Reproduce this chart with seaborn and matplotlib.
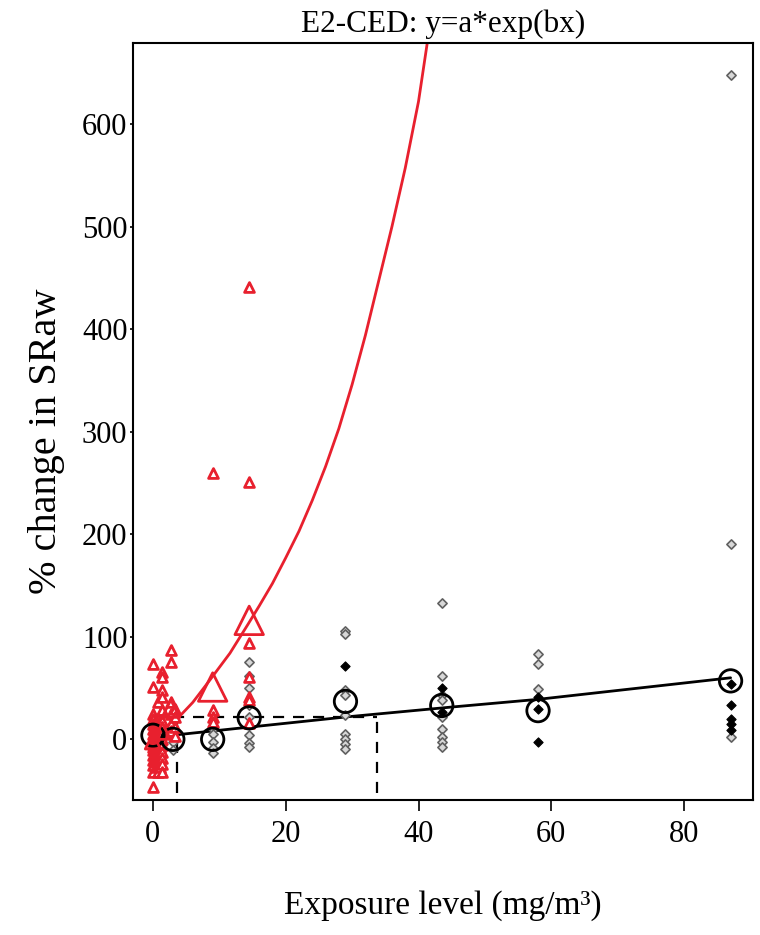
import numpy as np
import pandas as pd
import matplotlib
matplotlib.use("Agg")
import matplotlib.pyplot as plt
import seaborn as sns

# individual responses, red group (triangles)
red_x = [0, 0, 0, 0, 0, 0, 0, 0, 0, 0, 0, 0, 0, 0, 0, 0,
         0.4, 0.4, 0.4, 0.4, 0.4, 0.4, 0.4, 0.4, 0.4, 0.4,
         0.8, 0.8, 0.8, 0.8, 0.8, 0.8, 0.8, 0.8, 0.8, 0.8, 0.8, 0.8,
         1.1, 1.1, 1.1, 1.1, 1.1, 1.1, 1.1, 1.1, 1.1, 1.1,
         1.4, 1.4, 1.4, 1.4, 1.4, 1.4, 1.4, 1.4, 1.4, 1.4, 1.4, 1.4, 1.4, 1.4,
         2.7, 2.7, 2.7, 2.7, 2.7, 2.7,
         3.4, 3.4, 3.4, 3.4,
         9, 9, 9, 9,
         14.5, 14.5, 14.5, 14.5, 14.5, 14.5, 14.5]
red_y = [73.9, 51, 25, -7.5, -31.9, -46.5, 20, 15, 10, 5, 0, -5, -10, -15, -20, -25,
         18, 13, 8, 3, -2, -7, -12, -17, -22, -27,
         36.4, 20, 15, 10, 5, 0, -5, -10, -15, -20, -25, -31.9,
         18, 13, 8, 3, -2, -7, -12, -17, -22, -27,
         65.7, 60.8, 47.8, 41.3, 28.3, 18, 12, 6, 0, -6, -12, -18, -24, -31.9,
         86.8, 75.4, 36.4, 25, 15, 8,
         30, 21.8, 12, 3,
         260, 28.3, 21.8, 16.9,
         441, 251, 93.6, 60.8, 41.3, 38, 15.6]

# red group means
red_mean_x = [0, 1.4, 2.7, 9, 14.5]
red_mean_y = [-2, 8, 30, 51, 116]
red_mean_size = [120, 140, 160, 420, 420]

# individual responses, black group (grey diamonds)
grey_x = [0, 0, 0, 0, 0, 1.4, 1.4, 1.4, 3, 3, 3, 3,
          9, 9, 9, 9, 9,
          14.5, 14.5, 14.5, 14.5, 14.5, 14.5, 14.5, 14.5,
          29, 29, 29, 29, 29, 29, 29, 29, 29,
          43.5, 43.5, 43.5, 43.5, 43.5, 43.5, 43.5, 43.5, 43.5,
          58, 58, 58,
          87, 87, 87]
grey_y = [10, 5, 0, -5, -12, 8, 2, -6, 12, 4, -3, -10,
          10, 5, -3, -8, -13,
          75.4, 62, 50, 33, 21.8, 4, -4, -7.5,
          106, 102.4, 47.8, 43, 23.4, 5.5, 0.6, -4.2, -9,
          133, 61.5, 43, 38, 21.8, 10.4, 2.3, -2.6, -7.5,
          83.6, 73.2, 49.5,
          648, 190, 2.3]
black_x = [29, 43.5, 43.5, 58, 58, 58, 87, 87, 87, 87, 87]
black_y = [71.2, 50.4, 26.7, 41.3, 30, -2.6, 54.3, 33.2, 20.2, 14.6, 9.4]

# black group means (open circles)
mean_x = [0, 3, 9, 14.5, 29, 43.5, 58, 87]
mean_y = [4, 0, 0, 21, 37, 33, 28, 57]

# fitted curves
red_curve_x = [0.5, 2, 4.1, 6, 8.6, 11.6, 14.3, 16, 18, 20, 22, 24, 26, 28,
               30, 32, 34, 36, 38, 40, 41.8]
red_curve_y = [5, 12, 23, 36, 58, 84, 112, 130, 152, 177, 203, 233, 266, 303,
               346, 394, 447, 500, 557, 622, 700]
black_curve_x = [0, 29, 45, 58, 87]
black_curve_y = [2, 21.8, 31.5, 39, 60]

# critical effect size and doses
ces = 22
ced_red = 3.6
ced_black = 33.7
dash_bottom = -52

red = "#e8202e"

sns.set_style("white")
plt.rcParams['font.family'] = ['Liberation Serif', 'DejaVu Serif']
plt.rcParams['text.color'] = 'black'
plt.rcParams['axes.labelcolor'] = 'black'

fig = plt.figure(figsize=(7.6, 9.35), dpi=100)
ax = fig.add_axes([0.175, 0.144, 0.816, 0.810])

pts_red = pd.DataFrame({'x': red_x, 'y': red_y})
pts_grey = pd.DataFrame({'x': grey_x, 'y': grey_y})
pts_black = pd.DataFrame({'x': black_x, 'y': black_y})

# dashed CES / CED lines
ax.hlines(ces, 0, ced_black, colors="black", linestyles=(0, (5, 4)), lw=1.6, zorder=1)
ax.vlines([ced_red, ced_black], dash_bottom, ces, colors="black",
          linestyles=(0, (5, 4)), lw=1.6, zorder=1)

sns.lineplot(x=black_curve_x, y=black_curve_y, color="black", lw=2, ax=ax,
             sort=False, estimator=None, zorder=2)
sns.lineplot(x=red_curve_x, y=red_curve_y, color=red, lw=2, ax=ax,
             sort=False, estimator=None, zorder=2)

sns.scatterplot(data=pts_grey, x='x', y='y', marker='D', s=22, facecolor="#d8d8d8",
                edgecolor="#606060", linewidth=1.2, ax=ax, zorder=3)
sns.scatterplot(data=pts_black, x='x', y='y', marker='D', s=22, color="black",
                edgecolor="black", linewidth=0.8, ax=ax, zorder=3)
sns.scatterplot(data=pts_red, x='x', y='y', marker='^', s=50, facecolor="white",
                edgecolor=red, linewidth=2, ax=ax, zorder=4)
sns.scatterplot(x=mean_x, y=mean_y, marker='o', s=260, facecolor="none",
                edgecolor="black", linewidth=2, ax=ax, zorder=5)
sns.scatterplot(x=red_mean_x, y=red_mean_y, size=red_mean_size, sizes=(120, 420),
                marker='^', facecolor="none", edgecolor=red, linewidth=2,
                legend=False, ax=ax, zorder=5)

ax.set_xlim(-3, 90.4)
ax.set_ylim(-59.5, 679)
ax.set_xticks([0, 20, 40, 60, 80])
ax.set_yticks([0, 100, 200, 300, 400, 500, 600])
ax.tick_params(direction='out', width=1.2, labelsize=22, colors='black',
               left=True, bottom=True)
ax.tick_params(axis='x', length=8, pad=6)
ax.tick_params(axis='y', length=2, pad=2)
for s in ax.spines.values():
    s.set_color("black")
    s.set_linewidth(1.5)

ax.set_xlabel("Exposure level (mg/m³)", fontsize=24, labelpad=30)
ax.set_ylabel("% change in SRaw", fontsize=29, labelpad=12, y=0.474)
ax.set_title("E2-CED: y=a*exp(bx)", fontsize=22.5, pad=8)

fig.savefig("out.png", dpi=100)
